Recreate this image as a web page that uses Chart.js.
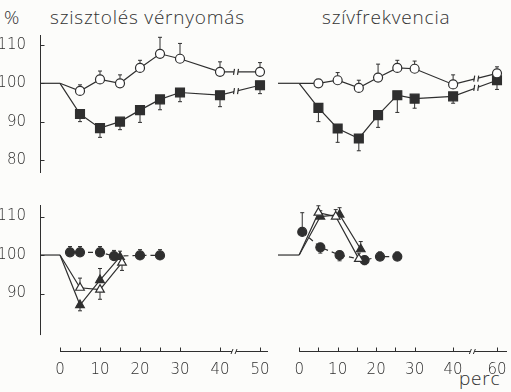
<!DOCTYPE html>
<html>
<head>
<meta charset="utf-8">
<script src="https://cdn.jsdelivr.net/npm/chart.js@4.4.1/dist/chart.umd.min.js"></script>
<style>
body { margin: 0; background: #fcfcfa; width: 511px; height: 392px; position: relative; overflow: hidden;
       font-family: "Open Sans", sans-serif; font-weight: 300; color: #333; }
canvas { position: absolute; }
.t { position: absolute; font-size: 19px; letter-spacing: 0.8px; white-space: nowrap; line-height: 1; }
</style>
</head>
<body>
<div class="t" style="left:4px;top:8px">%</div>
<div class="t" style="left:50px;top:8px">szisztolés vérnyomás</div>
<div class="t" style="left:322px;top:8px">szívfrekvencia</div>
<div class="t" style="left:459px;top:369px">perc</div>
<canvas id="tl" width="270" height="148" style="left:0;top:30px"></canvas>
<canvas id="tr" width="233" height="148" style="left:278px;top:30px"></canvas>
<canvas id="bl" width="270" height="192" style="left:0;top:200px"></canvas>
<canvas id="br" width="233" height="192" style="left:278px;top:200px"></canvas>
<script>
// baseline (100 %) before time 0
const startT = 0;
const startV = 100;

// top left: systolic pressure
const sbpT = [5, 10, 15, 20, 25, 30, 40, 50];
const sbpOpen = [98, 101, 100, 104, 107.7, 106.4, 103, 103];
const sbpOpenErr = [1.6, 2.2, 2.2, 2, 4.3, 4, 2.6, 2.4];
const sbpFilled = [92, 88.3, 90, 93, 95.8, 97.6, 96.9, 99.5];
const sbpFilledErr = [-2, -2.4, -2.1, -3.2, -2.7, -2.4, -3, -2.2];

// top right: heart rate (60 min shown after the axis break)
const hrT = [5, 10, 15.5, 20.5, 25.5, 30, 40, 60];
const hrOpen = [100, 100.8, 98.8, 101.5, 104, 103.8, 99.7, 102.6];
const hrOpenErr = [1, 2, 2, 3.5, 2, 2, 2.5, 1.7];
const hrFilled = [93.6, 88.2, 85.6, 91.7, 96.9, 96, 96.6, 100.8];
const hrFilledErr = [-3.6, -3.6, -3.2, -3.2, -4.5, -2.5, -1.8, -2.4];

// bottom left: systolic pressure, second experiment
const blOpenTriT = [5, 10, 15.5];
const blOpenTri = [91.5, 91, 98];
const blOpenTriErr = [2.5, -2.5, -2];
const blFillTriT = [5, 10, 15];
const blFillTri = [87, 93.5, 99.5];
const blFillTriErr = [-1.5, 3, 1.5];
const blDotT = [2.5, 5, 10, 13.5, 20, 25];
const blDot = [100.7, 100.7, 100.7, 99.7, 99.9, 99.9];
const blDotErr = [1.5, 1.5, 1.5, 1.5, 1.5, 1.5];

// bottom right: heart rate, second experiment
const brOpenTriT = [5, 9.5, 15.5];
const brOpenTri = [111, 110, 99];
const brOpenTriErr = [1.8, 1.8, 1.5];
const brFillTriT = [5.5, 10.5, 16];
const brFillTri = [110, 110.5, 101.5];
const brFillTriErr = [1.5, 1.8, 2];
const brDotT = [0.8, 5.5, 10.5, 17, 21, 25.5];
const brDot = [106, 102, 100, 98.7, 99.6, 99.6];
const brDotErr = [5, -1.5, -1.5, -1.2, 1.2, 1.2];

// axis ticks
const leftXTicks = [0, 5, 10, 15, 20, 25, 30, 40, 50];
const rightXTicks = [0, 5, 10, 15, 20, 25, 30, 40, 60];
const topYTicks = [80, 90, 100, 110];
const botYTicks = [90, 100, 110];

const ink = '#2f2f2f';
const paper = '#fcfcfa';
const tickFont = { family: '"DejaVu Sans", sans-serif', size: 15, weight: 200 };

// right panels: compress the part after the break
const squeeze = t => t <= 40 ? t : 40 + (t - 40) * 0.57;

function pts(t, v, f = x => x) {
    return t.map((x, i) => ({ x: f(x), y: v[i] }));
}

const marks = {
    openCircle: { pointStyle: 'circle', r: 4.5, bg: '#fff' },
    filledSquare: { pointStyle: 'rect', r: 6.3, bg: ink },
    openTri: { pointStyle: 'triangle', r: 5, bg: '#fff' },
    fillTri: { pointStyle: 'triangle', r: 5, bg: ink },
    dot: { pointStyle: 'circle', r: 4.5, bg: ink }
};

function series(t, v, err, mark, opts = {}) {
    const m = marks[mark];
    let data = pts(t, v, opts.f);
    let e = err.slice();
    let radius = data.map(() => m.r);
    if (opts.fromStart) {
        data.unshift({ x: startT, y: startV });
        e.unshift(0);
        radius.unshift(0);
    }
    return {
        data, err: e, brk: opts.brk,
        borderColor: ink, borderWidth: 1.2, borderDash: opts.dash || [],
        pointStyle: m.pointStyle, pointRadius: radius, pointBackgroundColor: m.bg,
        pointBorderColor: ink, pointBorderWidth: 1.2, tension: 0, clip: false
    };
}

function baseline(xMin) {
    return { data: [{ x: xMin, y: startV }, { x: startT, y: startV }], borderColor: ink, borderWidth: 1.2,
             pointRadius: 0, clip: false };
}

// error bars, axis lines with inward ticks, break marks
const framePlugin = {
    id: 'frame',
    beforeDatasetsDraw(chart) {
        const { ctx } = chart, xs = chart.scales.x, ys = chart.scales.y;
        ctx.save();
        ctx.strokeStyle = ink;
        ctx.lineWidth = 1;
        chart.data.datasets.forEach(ds => {
            if (!ds.err) return;
            ds.data.forEach((p, i) => {
                const e = ds.err[i];
                if (!e) return;
                const px = xs.getPixelForValue(p.x);
                const y0 = ys.getPixelForValue(p.y), y1 = ys.getPixelForValue(p.y + e);
                ctx.beginPath();
                ctx.moveTo(px, y0); ctx.lineTo(px, y1);
                ctx.moveTo(px - 2, y1); ctx.lineTo(px + 2, y1);
                ctx.stroke();
            });
        });
        ctx.restore();
    },
    afterDraw(chart, args, o) {
        const { ctx } = chart, xs = chart.scales.x, ys = chart.scales.y;
        ctx.save();
        ctx.strokeStyle = ink;
        ctx.lineWidth = 1.2;
        // breaks on the data lines
        if (o.lineBreak != null) {
            chart.data.datasets.forEach(ds => {
                if (!ds.brk) return;
                for (let i = 1; i < ds.data.length; i++) {
                    const a = ds.data[i - 1], b = ds.data[i];
                    if (a.x < o.lineBreak && b.x > o.lineBreak) {
                        const yv = a.y + (b.y - a.y) * (o.lineBreak - a.x) / (b.x - a.x);
                        const px = xs.getPixelForValue(o.lineBreak), py = ys.getPixelForValue(yv);
                        ctx.fillStyle = paper;
                        ctx.fillRect(px - 2, py - 2, 4, 4);
                        ctx.beginPath();
                        ctx.moveTo(px - 2.5, py + 3); ctx.lineTo(px - 1.5, py - 3);
                        ctx.moveTo(px + 1.5, py + 3); ctx.lineTo(px + 2.5, py - 3);
                        ctx.stroke();
                    }
                }
            });
        }
        ctx.lineWidth = 1;
        if (o.yAxis) {
            const px = Math.round(xs.getPixelForValue(xs.min)) + 0.5;
            ctx.beginPath();
            ctx.moveTo(px, ys.getPixelForValue(o.yAxis.from));
            ctx.lineTo(px, ys.getPixelForValue(o.yAxis.to));
            ys.ticks.forEach(t => {
                const py = Math.round(ys.getPixelForValue(t.value)) + 0.5;
                ctx.moveTo(px, py); ctx.lineTo(px + 4, py);
            });
            ctx.stroke();
        }
        if (o.xAxis) {
            const py = Math.round(chart.chartArea.bottom) - 0.5;
            ctx.beginPath();
            ctx.moveTo(xs.getPixelForValue(o.xAxis.from), py);
            ctx.lineTo(xs.getPixelForValue(o.xAxis.to), py);
            xs.ticks.forEach(t => {
                const px = Math.round(xs.getPixelForValue(t.value)) + 0.5;
                ctx.moveTo(px, py); ctx.lineTo(px, py - 4);
            });
            ctx.stroke();
            const bx = xs.getPixelForValue(o.xAxis.brk);
            ctx.fillStyle = paper;
            ctx.fillRect(bx - 2, py - 3, 4, 6);
            ctx.beginPath();
            ctx.moveTo(bx - 3, py + 2.5); ctx.lineTo(bx - 1, py - 2.5);
            ctx.moveTo(bx + 1, py + 2.5); ctx.lineTo(bx + 3, py - 2.5);
            ctx.stroke();
        }
        ctx.restore();
    }
};

function panel(id, cfg) {
    return new Chart(document.getElementById(id), {
        type: 'line',
        data: { datasets: cfg.datasets },
        options: {
            responsive: false,
            animation: false,
            events: [],
            layout: { padding: cfg.padding, autoPadding: false },
            plugins: { legend: { display: false }, tooltip: { enabled: false }, frame: cfg.frame },
            scales: {
                x: {
                    type: 'linear', min: cfg.xMin, max: cfg.xMax, display: cfg.showX,
                    grid: { display: false }, border: { display: false },
                    afterBuildTicks: s => { s.ticks = cfg.xTicks.map(v => ({ value: v })); },
                    afterFit: s => {
                        s.height = cfg.showX ? 40 : 0;
                        s.paddingLeft = 0; s.paddingRight = 0;
                    },
                    ticks: { font: tickFont, color: ink, padding: 1, autoSkip: false, maxRotation: 0,
                             callback: cfg.xLabel }
                },
                y: {
                    type: 'linear', min: cfg.yMin, max: cfg.yMax, display: cfg.showY,
                    grid: { display: false }, border: { display: false },
                    afterBuildTicks: s => { s.ticks = cfg.yTicks.map(v => ({ value: v })); },
                    afterFit: s => {
                        s.width = cfg.showY ? 40 : 0;
                        s.paddingTop = 0; s.paddingBottom = 0;
                    },
                    ticks: { font: tickFont, color: ink, padding: 6, autoSkip: false }
                }
            }
        },
        plugins: [framePlugin]
    });
}

const leftLabel = v => v % 10 === 0 ? String(v) : '';
const rightLabels = {};
rightXTicks.forEach(t => { if (t % 10 === 0) rightLabels[squeeze(t)] = String(t); });
const rightLabel = v => rightLabels[v] || '';

panel('tl', {
    padding: { top: 5, bottom: 5, right: 2, left: 0 },
    xMin: -5, xMax: 52, showX: false, xTicks: leftXTicks, xLabel: leftLabel,
    yMin: 76.6, yMax: 112.6, showY: true, yTicks: topYTicks,
    frame: { yAxis: { from: 112.6, to: 76.6 }, lineBreak: 44 },
    datasets: [
        baseline(-5),
        series(sbpT, sbpOpen, sbpOpenErr, 'openCircle', { fromStart: true, brk: true }),
        series(sbpT, sbpFilled, sbpFilledErr, 'filledSquare', { fromStart: true, brk: true })
    ]
});

panel('tr', {
    padding: { top: 5, bottom: 5, right: 4, left: 0 },
    xMin: -5.5, xMax: 54, showX: false, xTicks: rightXTicks.map(squeeze), xLabel: rightLabel,
    yMin: 76.6, yMax: 112.6, showY: false, yTicks: topYTicks,
    frame: { lineBreak: 46 },
    datasets: [
        baseline(-5.5),
        series(hrT, hrOpen, hrOpenErr, 'openCircle', { fromStart: true, brk: true, f: squeeze }),
        series(hrT, hrFilled, hrFilledErr, 'filledSquare', { fromStart: true, brk: true, f: squeeze })
    ]
});

panel('bl', {
    padding: { top: 5, bottom: 0, right: 2, left: 0 },
    xMin: -5, xMax: 52, showX: true, xTicks: leftXTicks, xLabel: leftLabel,
    yMin: 74.8, yMax: 113, showY: true, yTicks: botYTicks,
    frame: { yAxis: { from: 113, to: 79.2 }, xAxis: { from: 0, to: 52, brk: 43.5 } },
    datasets: [
        baseline(-5),
        series(blOpenTriT, blOpenTri, blOpenTriErr, 'openTri', { fromStart: true }),
        series(blFillTriT, blFillTri, blFillTriErr, 'fillTri', { fromStart: true }),
        series(blDotT, blDot, blDotErr, 'dot', { dash: [5, 4] })
    ]
});

panel('br', {
    padding: { top: 5, bottom: 0, right: 4, left: 0 },
    xMin: -5.5, xMax: 54, showX: true, xTicks: rightXTicks.map(squeeze), xLabel: rightLabel,
    yMin: 74.8, yMax: 113, showY: false, yTicks: botYTicks,
    frame: { xAxis: { from: 0, to: 54, brk: 45 } },
    datasets: [
        baseline(-5.5),
        series(brOpenTriT, brOpenTri, brOpenTriErr, 'openTri', { fromStart: true, f: squeeze }),
        series(brFillTriT, brFillTri, brFillTriErr, 'fillTri', { fromStart: true, f: squeeze }),
        series(brDotT, brDot, brDotErr, 'dot', { dash: [5, 4], f: squeeze })
    ]
});
</script>
</body>
</html>
